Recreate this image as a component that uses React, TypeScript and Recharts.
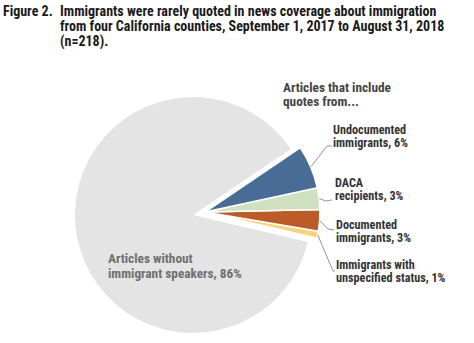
import { PieChart, Pie, Cell } from 'recharts'

const categories = [
  'Articles without immigrant speakers',
  'Immigrants with unspecified status',
  'Documented immigrants',
  'DACA recipients',
  'Undocumented immigrants'
]
const shares = [86, 1, 3, 3, 6]
const colors = ['#e4e4e4', '#f6d47c', '#bb5b28', '#cfe1c0', '#486c95']

const labelLines = [
  ['Articles without', 'immigrant speakers, 86%'],
  ['Immigrants with', 'unspecified status, 1%'],
  ['Documented', 'immigrants, 3%'],
  ['DACA', 'recipients, 3%'],
  ['Undocumented', 'immigrants, 6%']
]

const data = categories.map((name, i) => ({ name, value: shares[i] }))

const font = "'Liberation Sans Narrow', 'Roboto Condensed', 'DejaVu Sans Condensed', 'Liberation Sans', sans-serif"

// where each label text sits, and the elbow of its leader line
const labelPos: Record<number, { x: number; y: number; elbow: [number, number]; end: [number, number] }> = {
  1: { x: 336, y: 269, elbow: [333, 271], end: [335, 271] },
  2: { x: 336, y: 229, elbow: [328, 229], end: [334, 230] },
  3: { x: 335, y: 187, elbow: [326, 201], end: [332, 200] },
  4: { x: 333, y: 134, elbow: [327, 146], end: [332, 146] }
}

const RAD = Math.PI / 180

function SliceLabel(props: any) {
  const { cx, cy, midAngle, outerRadius, index } = props
  const pos = labelPos[index]
  if (!pos) return null
  const sx = cx + outerRadius * Math.cos(-midAngle * RAD)
  const sy = cy + outerRadius * Math.sin(-midAngle * RAD)
  return (
    <g>
      <polyline
        points={`${sx},${sy} ${pos.elbow[0]},${pos.elbow[1]} ${pos.end[0]},${pos.end[1]}`}
        fill="none"
        stroke="#777"
        strokeWidth={0.8}
      />
      <text x={pos.x} y={pos.y} fontSize={12.2} fontWeight="bold" fill="#333" fontFamily={font}>
        <tspan x={pos.x}>{labelLines[index][0]}</tspan>
        <tspan x={pos.x} dy={12.5}>{labelLines[index][1]}</tspan>
      </text>
    </g>
  )
}

function BigLabel(props: any) {
  if (props.index !== 0) return null
  return (
    <text x={108} y={263} fontSize={13.3} fontWeight="bold" fill="#6f6f6f" fontFamily={font}>
      <tspan x={108}>{labelLines[0][0]}</tspan>
      <tspan x={108} dy={14.5}>{labelLines[0][1]}</tspan>
    </text>
  )
}

export default function App() {
  return (
    <div style={{ position: 'absolute', left: 0, top: 0, width: 474, height: 343, background: '#fff' }}>
      <PieChart width={474} height={343} margin={{ top: 0, right: 0, bottom: 0, left: 0 }}>
        <text x={3} y={16} fontSize={14} fontWeight="bold" fill="#1a1a1a" fontFamily={font}>
          Figure 2.
        </text>
        <text fontSize={14} fontWeight="bold" fill="#1a1a1a" fontFamily={font}>
          <tspan x={60} y={16}>Immigrants were rarely quoted in news coverage about immigration</tspan>
          <tspan x={60} y={31}>from four California counties, September 1, 2017 to August 31, 2018</tspan>
          <tspan x={60} y={46}>(n=218).</tspan>
        </text>
        <text fontSize={13.3} fontWeight="bold" fill="#444" fontFamily={font}>
          <tspan x={283} y={92}>Articles that include</tspan>
          <tspan x={283} y={106}>quotes from...</tspan>
        </text>
        <Pie
          data={data}
          dataKey="value"
          cx={193}
          cy={215}
          outerRadius={118}
          startAngle={34}
          endAngle={394}
          stroke="#fff"
          strokeWidth={0}
          label={BigLabel}
          labelLine={false}
          isAnimationActive={false}
        >
          {data.map((d, i) => (
            <Cell key={d.name} fill={i === 0 ? colors[0] : 'transparent'} />
          ))}
        </Pie>
        <Pie
          data={data}
          dataKey="value"
          cx={205}
          cy={212}
          outerRadius={115}
          startAngle={34}
          endAngle={394}
          stroke="#fff"
          strokeWidth={1.6}
          label={SliceLabel}
          labelLine={false}
          isAnimationActive={false}
        >
          {data.map((d, i) => (
            <Cell key={d.name} fill={i === 0 ? 'transparent' : colors[i]} stroke={i === 0 ? 'none' : '#fff'} />
          ))}
        </Pie>
      </PieChart>
    </div>
  )
}
